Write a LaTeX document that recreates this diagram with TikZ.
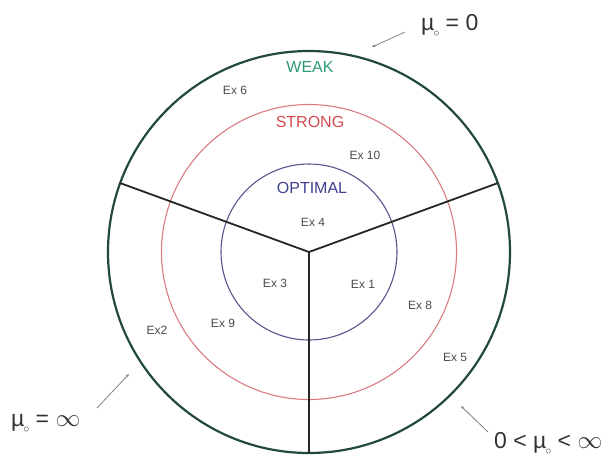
\documentclass[tikz,border=0pt]{standalone}
\usepackage{fontspec}
\setmainfont{Liberation Sans}
\usetikzlibrary{arrows.meta}
\definecolor{outergreen}{HTML}{214A38}
\definecolor{weakgreen}{HTML}{2E9A70}
\definecolor{strongred}{HTML}{D24A4E}
\definecolor{ringred}{HTML}{DC7A82}
\definecolor{optblue}{HTML}{3F3F90}
\definecolor{ringblue}{HTML}{55558C}
\definecolor{extext}{HTML}{4A4A4A}
\definecolor{mutext}{HTML}{333333}
\newcommand{\muo}{µ\kern-0.05em\raisebox{-0.3em}{\fontsize{12}{12}\selectfont$\circ$}}
\begin{document}
\begin{tikzpicture}[x=1pt,y=-1pt,
  region/.style={font=\fontsize{16}{16}\selectfont, inner sep=0pt},
  exlabel/.style={font=\fontsize{12}{12}\selectfont, text=extext, inner sep=0pt},
  mulabel/.style={font=\fontsize{23}{23}\selectfont, text=mutext, inner sep=0pt, anchor=base west},
  pointer/.style={draw=gray, line width=0.8pt, -{Stealth[length=3.5pt,width=3pt]}},
  spoke/.style={draw=black!85, line width=1.8pt}]
\useasboundingbox (0,0) rectangle (607,456);
\coordinate (C) at (309,252);
% circles
\draw[outergreen, line width=2.2pt] (C) circle[radius=201pt];
\draw[ringred, line width=1.1pt] (C) circle[radius=147.5pt];
\draw[ringblue, line width=1.1pt] (C) circle[radius=88pt];
% spokes
\coordinate (L) at (120,183);
\coordinate (R) at (498,183);
\coordinate (B) at (309,453);
\draw[spoke] (C) -- (L);
\draw[spoke] (C) -- (R);
\draw[spoke] (C) -- (B);
% region labels
\node[region, text=weakgreen] (weak) at (310,67) {WEAK};
\node[region, text=strongred] (strong) at (310,122) {STRONG};
\node[region, text=optblue] (optimal) at (312,188) {OPTIMAL};
% example labels
\node[exlabel] (ex6) at (235,90) {Ex 6};
\node[exlabel] (ex10) at (365,155) {Ex 10};
\node[exlabel] (ex4) at (313,222) {Ex 4};
\node[exlabel] (ex3) at (275,283) {Ex 3};
\node[exlabel] (ex1) at (363,284) {Ex 1};
\node[exlabel] (ex8) at (420,305) {Ex 8};
\node[exlabel] (ex9) at (223,323) {Ex 9};
\node[exlabel] (ex2) at (157,330) {Ex2};
\node[exlabel] (ex5) at (455,357) {Ex 5};
% mu labels
\node[mulabel] (mu0) at (421,30) {\muo\ = 0};
\node[mulabel] (muinf) at (11,426) {\muo\ = $\infty$};
\node[mulabel] (mumid) at (494,448) {0 < \muo\ < $\infty$};
% pointers
\coordinate (p0s) at (405,32);
\coordinate (p0e) at (372,47);
\coordinate (pis) at (97,408);
\coordinate (pie) at (129,374);
\coordinate (pms) at (488,432);
\coordinate (pme) at (461,406);
\draw[pointer] (p0s) -- (p0e);
\draw[pointer] (pis) -- (pie);
\draw[pointer] (pms) -- (pme);
\end{tikzpicture}
\end{document}
